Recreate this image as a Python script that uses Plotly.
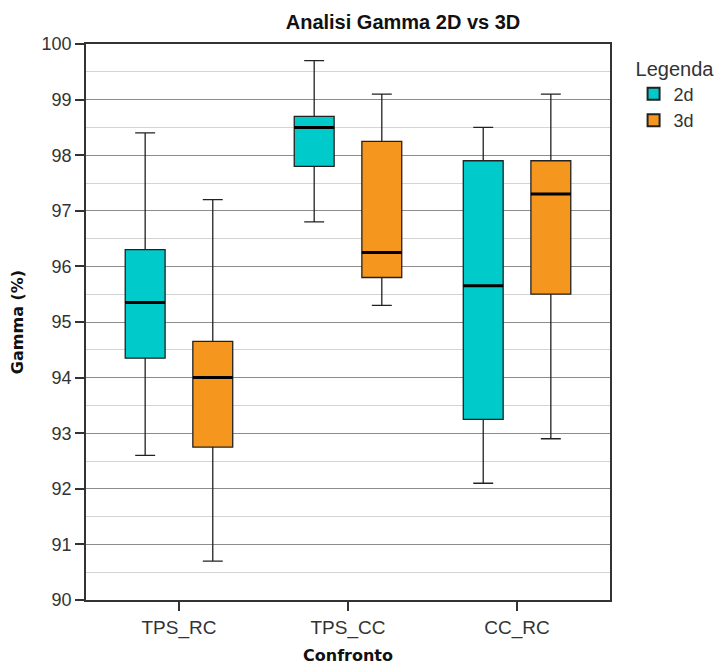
import plotly.graph_objects as go

categories = ["TPS_RC", "TPS_CC", "CC_RC"]

# 2d series
d2_lower = [92.6, 96.8, 92.1]
d2_q1 = [94.35, 97.8, 93.25]
d2_median = [95.35, 98.5, 95.65]
d2_q3 = [96.3, 98.7, 97.9]
d2_upper = [98.4, 99.7, 98.5]

# 3d series
d3_lower = [90.7, 95.3, 92.9]
d3_q1 = [92.75, 95.8, 95.5]
d3_median = [94.0, 96.25, 97.3]
d3_q3 = [94.65, 98.25, 97.9]
d3_upper = [97.2, 99.1, 99.1]

y_ticks = [90, 91, 92, 93, 94, 95, 96, 97, 98, 99, 100]

col2d = "#00CACA"
col3d = "#F5961F"
line_col = "#222222"

fig = go.Figure()

for name, lo, q1, med, q3, up, col in [
    ("2d", d2_lower, d2_q1, d2_median, d2_q3, d2_upper, col2d),
    ("3d", d3_lower, d3_q1, d3_median, d3_q3, d3_upper, col3d),
]:
    fig.add_trace(go.Box(
        name=name, x=categories, q1=q1, median=med, q3=q3,
        lowerfence=lo, upperfence=up,
        fillcolor=col, line=dict(color=line_col, width=1.3),
        whiskerwidth=0.5, offsetgroup=name, boxpoints=False,
        hoverinfo="skip",
    ))

for name, med in [("2d", d2_median), ("3d", d3_median)]:
    fig.add_trace(go.Box(
        name=name + " median", x=categories, q1=med, median=med, q3=med,
        lowerfence=med, upperfence=med,
        fillcolor="black", line=dict(color="black", width=3),
        whiskerwidth=0, offsetgroup=name, boxpoints=False,
        showlegend=False, hoverinfo="skip",
    ))

fig.update_layout(
    width=719, height=665,
    margin=dict(l=86, r=109, t=44, b=65, autoexpand=False),
    paper_bgcolor="white", plot_bgcolor="white",
    boxmode="group", boxgap=0.2, boxgroupgap=0.41,
    title=dict(text="<b>Analisi Gamma 2D vs 3D</b>", x=403 / 719, xanchor="center",
               y=1 - 22 / 665, yanchor="middle",
               font=dict(family="Liberation Sans, Arial", size=20, color="#111")),
    font=dict(family="Liberation Sans, Arial", color="#333"),
    legend=dict(
        title=dict(text="Legenda", font=dict(size=20, color="#333")),
        x=1.045, y=0.99, xanchor="left", yanchor="top",
        font=dict(size=18, color="#333"),
        itemsizing="constant", tracegroupgap=0,
    ),
    showlegend=True,
)

fig.update_xaxes(
    type="category", range=[-0.55, 2.55],
    showline=True, linecolor="#333", linewidth=1.5, mirror=True,
    ticks="outside", ticklen=9, tickcolor="#333", tickwidth=1.5,
    tickfont=dict(size=19, color="#333"),
    title=dict(text="<b>Confronto</b>", standoff=12,
               font=dict(family="DejaVu Sans", size=16, color="#111")),
    showgrid=False, zeroline=False, automargin=False,
)

fig.update_yaxes(
    range=[90, 100], tickvals=y_ticks,
    showline=True, linecolor="#333", linewidth=1.5, mirror=True,
    ticks="outside", ticklen=9, tickcolor="#333", tickwidth=1.5,
    tickfont=dict(size=18, color="#333"),
    showgrid=True, gridcolor="#8c8c8c", gridwidth=1.2,
    minor=dict(dtick=0.5, showgrid=True, gridcolor="#d4d4d4", gridwidth=1.2, ticks=""),
    title=dict(text="<b>Gamma (%)</b>", standoff=14,
               font=dict(family="DejaVu Sans", size=16, color="#111")),
    zeroline=False, automargin=False,
)

fig.write_html("out.html", config={"displayModeBar": False},
               post_script="document.body.style.margin='0px';")
